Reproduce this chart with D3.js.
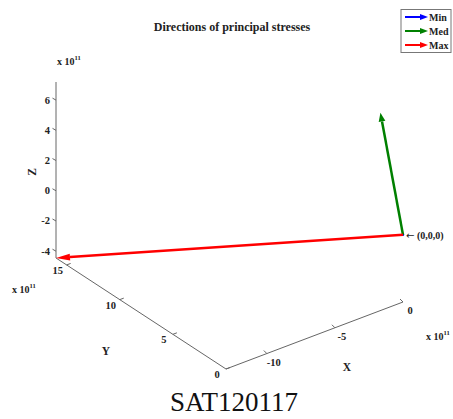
<!DOCTYPE html>
<html><head><meta charset="utf-8">
<script src="https://cdn.jsdelivr.net/npm/d3@7"></script>
<style>body{margin:0;background:#fff}svg{display:block}text{font-family:"Liberation Serif","Times New Roman",serif}</style>
</head><body>
<script>
// ---- data ----
const series = ["Min", "Med", "Max"];
const colors = ["#0000ff", "#008000", "#ff0000"];
const dirX = [-0.05, -0.1, -13.0];   // x 10^11
const dirY = [0.04, 2.0, 16.0];      // x 10^11
const dirZ = [0.03, 7.2, -4.45];     // x 10^11
const xLim = [-13.0, 0];
const yLim = [0, 16.0];
const zLim = [-4.45, 7.2];
const xTicks = [-10, -5, 0];
const yTicks = [0, 5, 10, 15];
const zTicks = [-4, -2, 0, 2, 4, 6];
const title = "Directions of principal stresses";
const caption = "SAT120117";

const W = 453, H = 419;
const svg = d3.select("body").append("svg").attr("width", W).attr("height", H);

// projection (MATLAB-like 3D view)
const P0 = [226, 369];          // (xmin, ymin, zmin)
const Vx = [177, -67];
const Vy = [-170, -111];
const Vz = [0, -176];
const sx = d3.scaleLinear().domain(xLim).range([0, 1]);
const sy = d3.scaleLinear().domain(yLim).range([0, 1]);
const sz = d3.scaleLinear().domain(zLim).range([0, 1]);
function proj(x, y, z) {
  const a = sx(x), b = sy(y), c = sz(z);
  return [P0[0] + a*Vx[0] + b*Vy[0] + c*Vz[0], P0[1] + a*Vx[1] + b*Vy[1] + c*Vz[1]];
}
const axisColor = "#666";
function label(x, y, t, anchor, size) {
  return svg.append("text").attr("x", x).attr("y", y).attr("text-anchor", anchor || "middle")
    .attr("font-weight", "bold").attr("font-size", (size || 10.5) + "px").attr("fill", "#222").text(t);
}
function exp(x, y) {
  const t = svg.append("text").attr("x", x).attr("y", y).attr("font-weight", "bold")
    .attr("font-size", "10px").attr("fill", "#222");
  t.append("tspan").text("x 10");
  t.append("tspan").attr("dy", -5).attr("font-size", "6.5px").text("11");
}
function line(p, q, col, w) {
  svg.append("line").attr("x1", p[0]).attr("y1", p[1]).attr("x2", q[0]).attr("y2", q[1])
    .attr("stroke", col).attr("stroke-width", w);
}

// axes
line(proj(xLim[0], yLim[0], zLim[0]), proj(xLim[1], yLim[0], zLim[0]), axisColor, 1);
line(proj(xLim[0], yLim[0], zLim[0]), proj(xLim[0], yLim[1], zLim[0]), axisColor, 1);
line(proj(xLim[0], yLim[1], zLim[0]), proj(xLim[0], yLim[1], zLim[1]), axisColor, 1);

// x ticks
xTicks.forEach(v => {
  const p = proj(v, yLim[0], zLim[0]);
  line(p, [p[0] - 3, p[1] - 3], axisColor, 1);
  label(p[0] + 7, p[1] + 12, String(v), "middle");
});
label(347, 371, "X", "middle", 11.5);
exp(426, 340);
// y ticks
yTicks.forEach(v => {
  const p = proj(xLim[0], v, zLim[0]);
  line(p, [p[0] + 4, p[1] - 1.5], axisColor, 1);
  label(p[0] - 9, p[1] + 9, String(v), "middle");
});
label(106, 355, "Y", "middle", 11.5);
exp(12, 293);
// z ticks
zTicks.forEach(v => {
  const p = proj(xLim[0], yLim[1], v);
  line(p, [p[0] - 3.5, p[1] - 2], axisColor, 1);
  label(p[0] - 6, p[1] + 3.5, String(v), "end");
});
svg.append("text").attr("transform", "translate(36,172) rotate(-90)").attr("text-anchor", "middle")
  .attr("font-weight", "bold").attr("font-size", "11.5px").attr("fill", "#222").text("Z");
exp(57, 65);

// arrows
const O = proj(0, 0, 0);
series.forEach((s, i) => {
  const T = proj(dirX[i], dirY[i], dirZ[i]);
  const dx = T[0] - O[0], dy = T[1] - O[1];
  const L = Math.hypot(dx, dy);
  if (L < 3) {
    svg.append("circle").attr("cx", O[0]).attr("cy", O[1]).attr("r", 1.2).attr("fill", colors[i]);
    return;
  }
  const ux = dx / L, uy = dy / L;
  const hl = i === 2 ? 14 : 9, hw = 3.4;
  const B = [T[0] - ux*hl, T[1] - uy*hl];
  line(O, B, colors[i], 2.5);
  svg.append("path").attr("d", `M${T[0]},${T[1]}L${B[0]-uy*hw},${B[1]+ux*hw}L${B[0]+uy*hw},${B[1]-ux*hw}Z`)
    .attr("fill", colors[i]);
});
// origin annotation
const ot = svg.append("text").attr("x", O[0] + 3).attr("y", O[1] + 4).attr("font-weight", "bold")
  .attr("font-size", "10px").attr("fill", "#222");
ot.append("tspan").attr("font-family", "DejaVu Sans").attr("font-weight", "normal").attr("font-size", "10px").text("\u2190");
ot.append("tspan").text(" (0,0,0)");

// title
label(232, 31, title, "middle", 12);

// legend
svg.append("rect").attr("x", 401).attr("y", 9.5).attr("width", 50).attr("height", 43)
  .attr("fill", "#fff").attr("stroke", "#777").attr("stroke-width", 1);
series.forEach((s, i) => {
  const y = 17 + i * 14;
  line([405, y], [421, y], colors[i], 2);
  svg.append("path").attr("d", `M428,${y}L420,${y-3}L420,${y+3}Z`).attr("fill", colors[i]);
  svg.append("text").attr("x", 429).attr("y", y + 3.5).attr("font-weight", "bold")
    .attr("font-size", "10px").attr("fill", "#222").text(s);
});

// caption
svg.append("text").attr("x", 234).attr("y", 411).attr("text-anchor", "middle")
  .attr("font-size", "27px").attr("fill", "#111").text(caption);
</script>
</body></html>
